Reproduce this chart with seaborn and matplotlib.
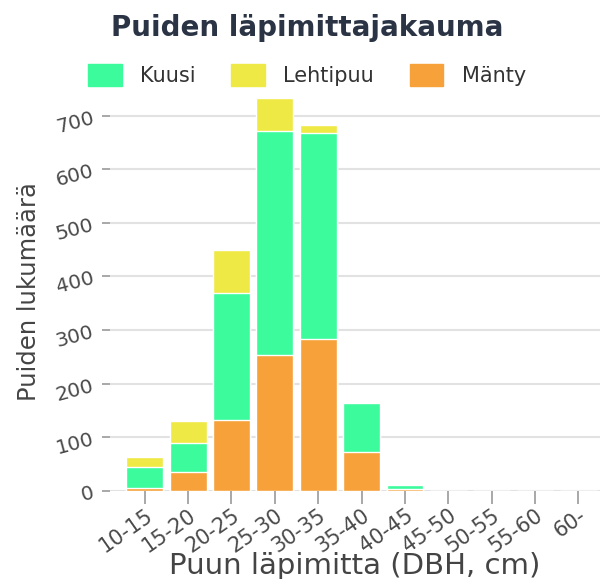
import numpy as np
import pandas as pd
import matplotlib.pyplot as plt
import seaborn as sns
from matplotlib.patches import Patch

# Data
classes = ['10-15', '15-20', '20-25', '25-30', '30-35', '35-40',
           '40-45', '45-50', '50-55', '55-60', '60-']
manty = [6, 36, 133, 254, 284, 72, 3, 0, 0, 0, 0]
kuusi = [39, 54, 237, 418, 383, 92, 8, 0, 0, 0, 0]
lehtipuu = [19, 40, 80, 61, 15, 2, 0, 0, 0, 0, 0]

c_kuusi = '#3bfb9c'
c_lehti = '#efe945'
c_manty = '#f6a13a'

sns.set_theme(style='white')
plt.rcParams['font.family'] = ['DejaVu Sans']

df = pd.DataFrame({'luokka': classes, 'Mänty': manty, 'Kuusi': kuusi, 'Lehtipuu': lehtipuu})
df['m_k'] = df['Mänty'] + df['Kuusi']
df['total'] = df['m_k'] + df['Lehtipuu']

fig = plt.figure(figsize=(6.08, 5.79), dpi=100)
ax = fig.add_axes([0.181, 0.152, 0.806, 0.69])

# stacked: draw the tallest layer first
sns.barplot(data=df, x='luokka', y='total', color=c_lehti, saturation=1, width=0.85, ax=ax)
sns.barplot(data=df, x='luokka', y='m_k', color=c_kuusi, saturation=1, width=0.85, ax=ax)
sns.barplot(data=df, x='luokka', y='Mänty', color=c_manty, saturation=1, width=0.85, ax=ax)

ax.set_xlim(-0.8, 10.5)
ax.set_ylim(0, 745)
ax.set_yticks(range(0, 701, 100))
ax.yaxis.grid(True, color='#e2e2e2', lw=1.5)
ax.set_axisbelow(True)
for s in ax.spines.values():
    s.set_visible(False)

ax.tick_params(axis='y', length=6, width=1.2, color='#999999', labelcolor='#4a4a4a',
               labelsize=14.5, pad=4, left=True)
ax.tick_params(axis='x', length=9, width=1.2, color='#999999', labelcolor='#4a4a4a',
               labelsize=15, pad=1, bottom=True)
for lbl in ax.get_yticklabels():
    lbl.set_rotation(15)
for lbl in ax.get_xticklabels():
    lbl.set_rotation(35)
    lbl.set_ha('right')
    lbl.set_rotation_mode('anchor')

ax.set_xlabel('Puun läpimitta (DBH, cm)', fontsize=21, color='#444444', labelpad=-3)
ax.set_ylabel('Puiden lukumäärä', fontsize=17.5, color='#444444', labelpad=9)

fig.suptitle('Puiden läpimittajakauma', x=0.505, y=0.975, fontsize=20,
             fontweight='bold', color='#2b3445')

handles = [Patch(color=c_kuusi, label='Kuusi'),
           Patch(color=c_lehti, label='Lehtipuu'),
           Patch(color=c_manty, label='Mänty')]
leg = fig.legend(handles=handles, loc='upper center', bbox_to_anchor=(0.505, 0.922),
                 ncol=3, frameon=False, fontsize=15, handlelength=1.6, handleheight=1.25,
                 handletextpad=0.9, columnspacing=1.7)
for t in leg.get_texts():
    t.set_color('#333333')

fig.savefig('out.png', dpi=100)
